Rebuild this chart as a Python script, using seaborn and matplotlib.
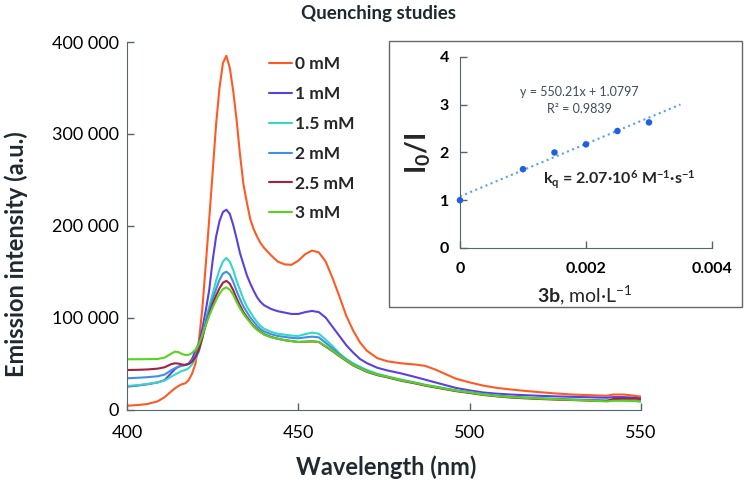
import numpy as np
import pandas as pd
import matplotlib
matplotlib.use("Agg")
import matplotlib.pyplot as plt
import seaborn as sns
from matplotlib.patches import Rectangle

# wavelength grid (nm) and emission spectra
wavelength = [400, 403, 406, 409, 411, 413, 414, 415, 416, 417,
              418, 419, 420, 421, 422, 423, 424, 425, 426, 427, 428, 429, 430, 431, 432,
              433, 434, 435, 436, 437, 438, 439, 440,
              442, 444, 446, 448, 450, 452, 454, 456, 458, 460, 462, 464, 466, 468, 470,
              473, 476, 480, 484, 487, 490, 493, 496, 500, 504, 508, 512, 516, 520, 525,
              530, 535, 540, 542, 545, 548, 550]

em_0mM = [4100, 4800, 6000, 9000, 13500, 20000, 23000, 25500, 27500, 28500,
          32000, 39000, 50000, 75000, 110000, 158000, 207000, 258000, 310000, 350000,
          377000, 385000, 372000, 347000, 315000, 277000, 245000, 225000, 207000, 196000,
          188000, 181000, 176000,
          168000, 161000, 158000, 157500, 162000, 169000, 173000, 171000, 161000, 143000,
          123000, 102000, 86000, 73000, 64000,
          56000, 52500, 50300, 49000, 47500, 43500, 38500, 33500, 29500, 26000, 23500,
          21800, 20300, 19000, 17500, 16300, 15600, 15000, 16300, 16300, 15000, 14000]
em_1mM = [24900, 26000, 27500, 29500, 32000, 40000, 44000, 46500, 48000, 48500,
          50000, 55000, 64000, 72000, 88000, 108000, 130000, 162000, 188000, 205000,
          215000, 217500, 213000, 201000, 186000, 170000, 158000, 146000, 137000, 129000,
          122000, 117000, 113500,
          109500, 107000, 105500, 104000, 104000, 106000, 107300, 106000, 100000, 90000,
          80000, 70000, 62000, 55000, 50500,
          45500, 42500, 39300, 35500, 32500, 29500, 26500, 23500, 20800, 18500, 17200,
          16300, 15600, 15000, 14300, 13800, 13300, 12800, 13500, 13500, 12800, 12000]
em_1_5mM = [25600, 26500, 27800, 29500, 31500, 36000, 38000, 40000, 42000, 43000,
            45000, 49000, 55000, 63000, 78000, 97000, 112000, 126000, 140000, 152000,
            161000, 165000, 161000, 152000, 140000, 130000, 120000, 112000, 106000, 100000,
            95000, 91000, 88000,
            84500, 82500, 81500, 80500, 80000, 82000, 83700, 82500, 76000, 69000,
            61000, 55000, 50300, 46500, 43000,
            39000, 36000, 32500, 29500, 27000, 25000, 23000, 21000, 19000, 16800, 15300,
            14000, 13000, 12300, 11500, 10800, 10200, 9500, 10000, 10000, 9500, 9000]
em_2mM = [34000, 34500, 35200, 36200, 38000, 43000, 45000, 46500, 47500, 48500,
          50000, 53000, 58000, 66000, 80000, 96000, 109000, 120000, 131000, 141000,
          148000, 150000, 147000, 139000, 129000, 120000, 112000, 106000, 100000, 95500,
          91000, 87500, 85000,
          82000, 80000, 79000, 78000, 77500, 78500, 79300, 78500, 72500, 66500,
          60000, 54000, 49000, 45500, 42000,
          38000, 35500, 32000, 29000, 26500, 24500, 22500, 20500, 18500, 16500, 15000,
          13800, 12900, 12200, 11400, 10800, 10300, 9800, 10500, 10500, 10000, 9500]
em_2_5mM = [43000, 43200, 43600, 44500, 46000, 49500, 50300, 50000, 49000, 48500,
            49500, 52000, 57000, 65000, 78000, 92000, 104000, 115000, 124000, 132000,
            138000, 140000, 137000, 130000, 121000, 113000, 106000, 100500, 95500, 91000,
            87400, 84500, 82000,
            79000, 77000, 75500, 74500, 73500, 73800, 74200, 73500, 68500, 63500,
            58000, 53000, 48000, 44500, 41000,
            37500, 35000, 31300, 28500, 26000, 24000, 22000, 20000, 18000, 15800, 14300,
            13000, 12200, 11500, 10800, 10300, 9700, 9200, 11500, 12000, 12000, 11500]
em_3mM = [54700, 54700, 54800, 55000, 56500, 61000, 63000, 62500, 60500, 59400,
          59500, 61500, 65000, 71000, 81000, 92000, 102000, 111000, 119000, 126000,
          131000, 133000, 130500, 125000, 117000, 110000, 104000, 99000, 94500, 90000,
          86600, 84000, 81500,
          78700, 77000, 75500, 74500, 73500, 73800, 74200, 73500, 69000, 64000,
          58500, 53500, 48500, 45000, 41500,
          38000, 35500, 31800, 29000, 26500, 24500, 22500, 20500, 18500, 16200, 14700,
          13500, 12700, 12000, 11200, 10500, 9800, 8800, 9500, 9500, 9200, 8500]

series_labels = ["0 mM", "1 mM", "1.5 mM", "2 mM", "2.5 mM", "3 mM"]
series_colors = ["#ff5a24", "#5a40e0", "#34d8c4", "#4090ea", "#a3223f", "#58d41e"]

x_ticks = [400, 450, 500, 550]
y_ticks = [0, 100000, 200000, 300000, 400000]
y_tick_labels = ["0", "100 000", "200 000", "300 000", "400 000"]

# Stern-Volmer inset
conc = [0, 0.001, 0.0015, 0.002, 0.0025, 0.003]
i0_over_i = [1.0, 1.65, 2.0, 2.17, 2.45, 2.63]
fit_slope = 550.21
fit_intercept = 1.0797
fit_x_end = 0.0035
inset_x_ticks = [0, 0.002, 0.004]
inset_x_labels = ["0", "0.002", "0.004"]
inset_y_ticks = [0, 1, 2, 3, 4]

sns.set_style("ticks")
plt.rcParams["font.family"] = ["Lato", "DejaVu Sans"]
plt.rcParams["mathtext.fontset"] = "custom"
plt.rcParams["mathtext.rm"] = "Lato"
plt.rcParams["mathtext.it"] = "Lato:italic"
plt.rcParams["mathtext.bf"] = "Lato:bold"

spine_col = "#56646b"

spectra = pd.DataFrame({"wavelength": wavelength})
for lab, vals in zip(series_labels, [em_0mM, em_1mM, em_1_5mM, em_2mM, em_2_5mM, em_3mM]):
    spectra[lab] = vals
long_df = spectra.melt(id_vars="wavelength", var_name="conc", value_name="intensity")

fig = plt.figure(figsize=(7.46, 4.82), dpi=100)
ax = fig.add_axes([0.1702, 0.1504, 0.689, 0.7624])

sns.lineplot(data=long_df, x="wavelength", y="intensity", hue="conc",
             hue_order=series_labels, palette=series_colors, linewidth=1.5, ax=ax)

ax.set_xlim(400, 550)
ax.set_ylim(0, 400000)
ax.set_xticks(x_ticks)
ax.set_yticks(y_ticks)
ax.set_yticklabels(y_tick_labels)
ax.tick_params(direction="in", length=5, width=1, colors=spine_col, labelcolor="black",
               labelsize=13)
ax.tick_params(axis="x", pad=11)
ax.tick_params(axis="y", pad=6)
for s in ["top", "right"]:
    ax.spines[s].set_visible(False)
for s in ["left", "bottom"]:
    ax.spines[s].set_color(spine_col)
ax.set_xlabel("Wavelength (nm)", fontsize=17, fontweight="bold", va="center",
              color="#1e2a30")
ax.set_ylabel("Emission intensity (a.u.)", fontsize=17, fontweight="bold", va="center",
              color="#1e2a30")
ax.xaxis.set_label_coords(0.504, -0.1565)
ax.yaxis.set_label_coords(-0.216, 0.423)

leg = ax.legend(loc="upper left", bbox_to_anchor=(0.276, 0.962), frameon=False,
                fontsize=12.5, handlelength=1.35, handletextpad=0.15,
                labelspacing=0.8, borderpad=0, borderaxespad=0)
for t in leg.get_texts():
    t.set_fontweight("bold")

fig.text(0.508, 0.971, "Quenching studies", ha="center", va="center",
         fontsize=13.5, fontweight="bold", color="#1e2a30")

# inset frame
fig.patches.append(Rectangle((0.5214, 0.3631), 0.4732, 0.5519, transform=fig.transFigure,
                             facecolor="white", edgecolor="#666666", linewidth=1.0, zorder=2))

ins = fig.add_axes([0.6166, 0.4855, 0.3378, 0.3963])
ins.set_zorder(3)
ins.patch.set_alpha(0)
fit_x = np.array([0, fit_x_end])
ins.plot(fit_x, fit_slope * fit_x + fit_intercept, linestyle=":", color="#5aa2e6",
         linewidth=1.5)
sns.scatterplot(x=conc, y=i0_over_i, color="#1f5fe6", s=22, edgecolor="none", ax=ins,
                zorder=3, clip_on=False)
ins.set_xlim(0, 0.004)
ins.set_ylim(0, 4)
ins.set_xticks(inset_x_ticks)
ins.set_xticklabels(inset_x_labels)
ins.set_yticks(inset_y_ticks)
ins.tick_params(direction="in", length=5, width=1, colors=spine_col, labelcolor="black",
                labelsize=11.5)
ins.tick_params(axis="x", pad=10)
ins.tick_params(axis="y", pad=8)
for t in ins.get_xticklabels() + ins.get_yticklabels():
    t.set_fontweight("bold")
for s in ["top", "right"]:
    ins.spines[s].set_visible(False)
for s in ["left", "bottom"]:
    ins.spines[s].set_color(spine_col)
ins.set_xlabel(r"$\mathbf{3b}$, mol·L$^{-1}$", fontsize=14, va="center")
ins.set_ylabel(r"I$_\mathbf{0}$/I", fontsize=20, fontweight="bold", va="center")
ins.xaxis.set_label_coords(0.496, -0.246)
ins.yaxis.set_label_coords(-0.167, 0.497)

ins.text(0.0019, 3.27, "y = 550.21x + 1.0797", ha="center", va="center",
         fontsize=9, color="#3f4d5c")
ins.text(0.0019, 2.92, "R² = 0.9839", ha="center", va="center",
         fontsize=9, color="#3f4d5c")
ins.text(0.00132, 1.42, r"$\mathbf{k_q}$ = 2.07·10$^\mathbf{6}$ M$^\mathbf{-1}$·s$^\mathbf{-1}$",
         ha="left", va="center", fontsize=11.5, fontweight="bold")

fig.savefig("out.png", dpi=100)
